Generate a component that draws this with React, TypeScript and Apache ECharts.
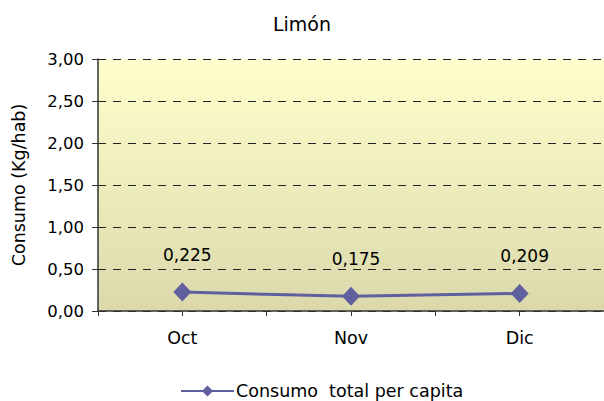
import React, { useEffect, useRef } from "react";
import * as echarts from "echarts";

const title = "Limón";
const categories = ["Oct", "Nov", "Dic"];
const seriesName = "Consumo  total per capita";
const values = [0.225, 0.175, 0.209];
const yAxisName = "Consumo (Kg/hab)";
const yMin = 0;
const yMax = 3;
const yStep = 0.5;

const FONT = "DejaVu Sans";

export default function App() {
  const ref = useRef<HTMLDivElement>(null);
  useEffect(() => {
    if (!ref.current) return;
    const chart = echarts.init(ref.current, null, { renderer: "svg" });
    chart.setOption({
      animation: false,
      backgroundColor: "#ffffff",
      textStyle: { fontFamily: FONT },
      title: {
        text: title,
        left: "center",
        top: 9,
        textStyle: { fontFamily: FONT, fontSize: 19, fontWeight: "normal", color: "#000" },
      },
      legend: {
        left: 175,
        top: 377,
        itemWidth: 53,
        itemHeight: 14,
        itemGap: 10,
        textStyle: { fontFamily: FONT, fontSize: 17.5, color: "#000", padding: [0, 0, 0, -3] },
        data: [{ name: seriesName }],
      },
      grid: {
        left: 98,
        top: 59,
        width: 508,
        height: 252,
        show: true,
        borderWidth: 0,
        backgroundColor: new echarts.graphic.LinearGradient(0, 0, 0, 1, [
          { offset: 0, color: "#FFFFCD" },
          { offset: 1, color: "#DBD9AC" },
        ]),
      },
      xAxis: [
        {
          type: "category",
          data: categories,
          boundaryGap: true,
          axisLine: { show: true, lineStyle: { color: "#333", width: 1.5 } },
          axisTick: { show: true, interval: 0, length: 5, lineStyle: { color: "#333" } },
          axisLabel: { fontFamily: FONT, fontSize: 17.5, color: "#000", margin: 18 },
          splitLine: { show: false },
        },
        {
          type: "category",
          data: categories,
          position: "bottom",
          boundaryGap: true,
          axisLine: { show: false },
          axisTick: { show: true, alignWithLabel: true, interval: 0, length: 5, lineStyle: { color: "#333" } },
          axisLabel: { show: false },
          splitLine: { show: false },
        },
      ],
      yAxis: {
        type: "value",
        min: yMin,
        max: yMax,
        interval: yStep,
        name: yAxisName,
        nameLocation: "middle",
        nameGap: 70,
        nameTextStyle: { fontFamily: FONT, fontSize: 17.5, color: "#000" },
        axisLine: { show: true, lineStyle: { color: "#333", width: 1.5 } },
        axisTick: { show: true, length: 6, inside: false, lineStyle: { color: "#333" } },
        axisLabel: {
          fontFamily: FONT,
          fontSize: 16.5,
          color: "#000",
          margin: 14,
          formatter: (v: number) => v.toFixed(2).replace(".", ","),
        },
        splitLine: { show: true, lineStyle: { color: "#222", width: 1, type: [8, 7] } },
      },
      series: [
        {
          name: seriesName,
          type: "line",
          data: values,
          symbol: "diamond",
          symbolSize: [18, 19],
          lineStyle: { color: "#60609F", width: 3 },
          itemStyle: { color: "#60609F" },
          label: {
            show: true,
            position: "top",
            distance: 19,
            offset: [5, 0],
            fontFamily: FONT,
            fontSize: 17,
            color: "#000",
            formatter: (p: any) => String(p.value).replace(".", ","),
          },
        },
      ],
    });
    return () => chart.dispose();
  }, []);
  return (
    <div
      ref={ref}
      style={{ position: "absolute", left: 0, top: 0, width: 604, height: 401 }}
    />
  );
}
